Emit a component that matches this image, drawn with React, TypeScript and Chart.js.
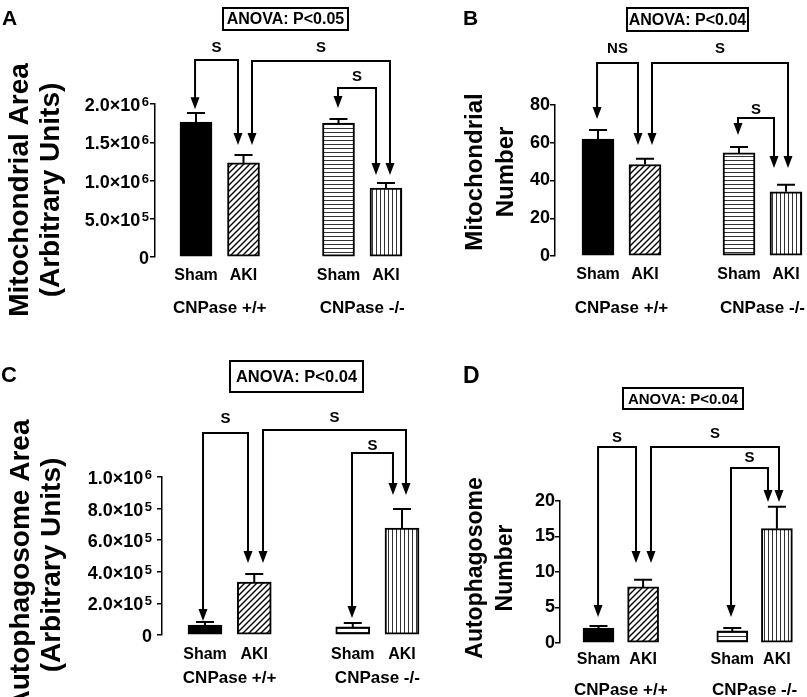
import React, { useEffect, useRef } from 'react';
import { Chart, registerables } from 'chart.js';

Chart.register(...registerables);

const FONT = '"Liberation Sans", Arial, Helvetica, sans-serif';
Chart.defaults.font.family = FONT;
Chart.defaults.color = '#000';

// ---------- data ----------
const categories = ['Sham', 'AKI', 'Sham', 'AKI'];
const xPositions = [0, 1, 3, 4];
const groupLabels = ['CNPase +/+', 'CNPase -/-'];
const groupPositions = [0.5, 3.5];

const mitoAreaValues = [1.765e6, 1.23e6, 1.75e6, 0.9e6];
const mitoAreaErrors = [0.117e6, 0.103e6, 0.055e6, 0.067e6];
const mitoAreaTicks = [0, 5e5, 1e6, 1.5e6, 2e6];

const mitoNumberValues = [62, 48.5, 54.6, 34];
const mitoNumberErrors = [4.8, 3, 3.2, 3.7];
const mitoNumberTicks = [0, 20, 40, 60, 80];

const autoAreaValues = [6.3e4, 3.35e5, 5.1e4, 6.77e5];
const autoAreaErrors = [1.9e4, 0.51e5, 2.5e4, 1.2e5];
const autoAreaTicks = [0, 2e5, 4e5, 6e5, 8e5, 1e6];

const autoNumberValues = [2.1, 7.9, 1.7, 16.1];
const autoNumberErrors = [0.3, 1.0, 0.4, 3.1];
const autoNumberTicks = [0, 5, 10, 15, 20];

// comparisons: [x1, x2, topValue, tip1Value, tip2Value, label, labelGap]
const mitoAreaBrackets: any[] = [
  [-0.02, 0.884, 2.575e6, 1.93e6, 1.464e6, 'S', 12],
  [1.179, 4.084, 2.562e6, 1.464e6, 1.072e6, 'S', 13],
  [2.99, 3.79, 2.209e6, 1.948e6, 1.072e6, 'S', 11],
];
const mitoNumberBrackets: any[] = [
  [-0.02, 0.851, 102.25, 72.6, 58.8, 'NS', 14],
  [1.149, 4.043, 102.25, 58.8, 46.6, 'S', 14],
  [2.979, 3.745, 73.1, 64.1, 46.6, 'S', 8],
];
const autoAreaBrackets: any[] = [
  [-0.04, 0.873, 1.278e6, 8.86e4, 4.557e5, 'S', 14],
  [1.178, 4.081, 1.297e6, 4.557e5, 8.86e5, 'S', 12],
  [2.985, 3.817, 1.152e6, 1.076e5, 8.86e5, 'S', 7],
];
const autoNumberBrackets: any[] = [
  [-0.01, 0.841, 27.6, 3.66, 11.27, 'S', 9],
  [1.177, 4.047, 27.6, 11.27, 19.86, 'S', 13],
  [2.971, 3.8, 24.65, 3.66, 19.86, 'S', 10],
];

// ---------- panel layout ----------
const panels: any[] = [
  {
    letter: 'A', letterPos: [2, 25], letterSize: 21,
    anova: 'ANOVA: P<0.05', box: [223, 8, 125, 22], anovaSize: 16,
    left: 155, top: 104, bottom: 257, x0: 196, unit: 47.5, right: 414, barW: 32,
    values: mitoAreaValues, errors: mitoAreaErrors, ticks: mitoAreaTicks, max: 2e6, sci: true, tickRight: 149,
    catPad: 1.4, groupY: 308,
    title: ['Mitochondrial Area', '(Arbitrary Units)'], titleSize: 28, titleBase: [28, 59], titleCY: 190,
    brackets: mitoAreaBrackets,
  },
  {
    letter: 'B', letterPos: [463, 25], letterSize: 21,
    anova: 'ANOVA: P<0.04', box: [627, 8, 121, 23], anovaSize: 16,
    left: 555, top: 105, bottom: 256, x0: 598, unit: 47, right: 805, barW: 32,
    values: mitoNumberValues, errors: mitoNumberErrors, ticks: mitoNumberTicks, max: 80, sci: false, tickRight: 0,
    catPad: 1.4, groupY: 308,
    title: ['Mitochondrial', 'Number'], titleSize: 24, titleBase: [482, 513], titleCY: 172,
    brackets: mitoNumberBrackets,
  },
  {
    letter: 'C', letterPos: [1, 382], letterSize: 22,
    anova: 'ANOVA: P<0.04', box: [230, 361, 133, 31], anovaSize: 16.5,
    left: 162, top: 477, bottom: 635, x0: 205, unit: 49.25, right: 431, barW: 34,
    values: autoAreaValues, errors: autoAreaErrors, ticks: autoAreaTicks, max: 1e6, sci: true, tickRight: 152,
    catPad: 2.4, groupY: 678,
    title: ['Autophagosome Area', '(Arbitrary Units)'], titleSize: 28, titleBase: [29, 60], titleCY: 565,
    brackets: autoAreaBrackets,
  },
  {
    letter: 'D', letterPos: [463, 383], letterSize: 23,
    anova: 'ANOVA: P<0.04', box: [623, 388, 120, 21], anovaSize: 15,
    left: 560, top: 501, bottom: 643, x0: 598.5, unit: 44.6, right: 804, barW: 31,
    values: autoNumberValues, errors: autoNumberErrors, ticks: autoNumberTicks, max: 20, sci: false, tickRight: 0,
    catPad: -0.6, groupY: 690,
    title: ['Autophagosome', 'Number'], titleSize: 23, titleBase: [482, 512], titleCY: 568,
    brackets: autoNumberBrackets,
  },
];

const W = 807;
const H = 697;
const Y_AXIS_W = 60;
const X_AXIS_H = 30;

function makePatterns(ctx: CanvasRenderingContext2D) {
  const mk = (w: number, h: number, draw: (c: CanvasRenderingContext2D) => void) => {
    const c = document.createElement('canvas');
    c.width = w;
    c.height = h;
    const g = c.getContext('2d')!;
    g.fillStyle = '#fff';
    g.fillRect(0, 0, w, h);
    draw(g);
    return ctx.createPattern(c, 'repeat')!;
  };
  const diag = mk(6, 6, (g) => {
    g.strokeStyle = '#000';
    g.lineWidth = 1.4;
    g.beginPath();
    g.moveTo(-1, 7); g.lineTo(7, -1);
    g.moveTo(-1, 1); g.lineTo(1, -1);
    g.moveTo(5, 7); g.lineTo(7, 5);
    g.stroke();
  });
  const hor = mk(4, 4, (g) => {
    g.fillStyle = '#333';
    g.fillRect(0, 0, 4, 1);
  });
  const ver = mk(4, 4, (g) => {
    g.fillStyle = '#333';
    g.fillRect(0, 0, 1, 4);
  });
  return ['#000', diag, hor, ver];
}

function errorBarPlugin(p: any) {
  return {
    id: 'errorBars' + p.letter,
    afterDatasetsDraw(chart: any) {
      const ctx = chart.ctx;
      const ys = chart.scales.y;
      const meta = chart.getDatasetMeta(0);
      ctx.save();
      ctx.strokeStyle = '#000';
      ctx.lineWidth = 2;
      meta.data.forEach((bar: any, i: number) => {
        const top = ys.getPixelForValue(p.values[i] + p.errors[i]);
        ctx.beginPath();
        ctx.moveTo(bar.x, bar.y);
        ctx.lineTo(bar.x, top);
        ctx.moveTo(bar.x - 9, top);
        ctx.lineTo(bar.x + 9, top);
        ctx.stroke();
      });
      ctx.restore();
    },
  };
}

function annotPlugin(p: any) {
  return {
    id: 'annot' + p.letter,
    afterDraw(chart: any) {
      const ctx: CanvasRenderingContext2D = chart.ctx;
      const xs = chart.scales.x;
      const ys = chart.scales.y;
      ctx.save();
      ctx.fillStyle = '#000';
      ctx.strokeStyle = '#000';

      // panel letter
      ctx.font = `bold ${p.letterSize}px ${FONT}`;
      ctx.textAlign = 'left';
      ctx.textBaseline = 'alphabetic';
      ctx.fillText(p.letter, p.letterPos[0], p.letterPos[1]);

      // ANOVA box
      const [bx, by, bw, bh] = p.box;
      ctx.lineWidth = 2;
      ctx.strokeRect(bx, by, bw, bh);
      ctx.font = `bold ${p.anovaSize}px ${FONT}`;
      ctx.textAlign = 'center';
      ctx.textBaseline = 'middle';
      ctx.fillText(p.anova, bx + bw / 2, by + bh / 2 + 1);

      // group labels
      ctx.font = `bold 17px ${FONT}`;
      groupLabels.forEach((g, i) => {
        ctx.fillText(g, xs.getPixelForValue(groupPositions[i]), p.groupY);
      });

      // y title
      ctx.font = `bold ${p.titleSize}px ${FONT}`;
      ctx.textBaseline = 'alphabetic';
      ctx.textAlign = 'center';
      p.title.forEach((line: string, i: number) => {
        ctx.save();
        ctx.translate(p.titleBase[i], p.titleCY);
        ctx.rotate(-Math.PI / 2);
        ctx.fillText(line, 0, 0);
        ctx.restore();
      });

      // scientific tick labels
      if (p.sci) {
        ys.ticks.forEach((t: any) => {
          const v = t.value;
          const y = ys.getPixelForValue(v);
          ctx.textAlign = 'right';
          ctx.textBaseline = 'alphabetic';
          if (v === 0) {
            ctx.font = `bold 18px ${FONT}`;
            ctx.fillText('0', p.tickRight, y + 7);
            return;
          }
          const exp = Math.floor(Math.log10(v) + 1e-9);
          const mant = (v / Math.pow(10, exp)).toFixed(1);
          ctx.font = `bold 13px ${FONT}`;
          const supW = ctx.measureText(String(exp)).width;
          ctx.fillText(String(exp), p.tickRight, y + 2);
          ctx.font = `bold 18px ${FONT}`;
          ctx.fillText(`${mant}×10`, p.tickRight - supW - 1.5, y + 7);
        });
      }

      // comparison brackets
      const AH = 12;
      const AW = 4.5;
      ctx.lineWidth = 2;
      ctx.lineJoin = 'miter';
      p.brackets.forEach((b: any[]) => {
        const [x1v, x2v, topV, t1V, t2V, label, gap] = b;
        const x1 = xs.getPixelForValue(x1v);
        const x2 = xs.getPixelForValue(x2v);
        const top = ys.getPixelForValue(topV);
        const t1 = ys.getPixelForValue(t1V);
        const t2 = ys.getPixelForValue(t2V);
        ctx.beginPath();
        ctx.moveTo(x1, t1 - AH + 1);
        ctx.lineTo(x1, top);
        ctx.lineTo(x2, top);
        ctx.lineTo(x2, t2 - AH + 1);
        ctx.stroke();
        [[x1, t1], [x2, t2]].forEach(([ax, ay]) => {
          ctx.beginPath();
          ctx.moveTo(ax, ay);
          ctx.lineTo(ax - AW, ay - AH);
          ctx.lineTo(ax + AW, ay - AH);
          ctx.closePath();
          ctx.fill();
        });
        ctx.font = `bold 15px ${FONT}`;
        ctx.textAlign = 'center';
        ctx.textBaseline = 'middle';
        ctx.fillText(label, (x1 + x2) / 2, top - gap);
      });

      ctx.restore();
    },
  };
}

function buildChart(canvas: HTMLCanvasElement, p: any) {
  const ctx = canvas.getContext('2d')!;
  const fills = makePatterns(ctx);
  const xmin = -(p.x0 - p.left) / p.unit;
  const xmax = (p.right - p.x0) / p.unit;
  return new Chart(canvas, {
    type: 'bar',
    data: {
      datasets: [
        {
          data: xPositions.map((x, i) => ({ x, y: p.values[i] })),
          backgroundColor: fills as any,
          borderColor: '#000',
          borderWidth: 2,
          borderSkipped: false,
          barThickness: p.barW,
        } as any,
      ],
    },
    options: {
      animation: false,
      responsive: false,
      devicePixelRatio: 1,
      events: [],
      layout: {
        padding: {
          left: p.left - Y_AXIS_W,
          right: W - p.right,
          top: p.top,
          bottom: H - p.bottom - X_AXIS_H,
        },
      },
      plugins: { legend: { display: false }, tooltip: { enabled: false } },
      scales: {
        x: {
          type: 'linear',
          min: xmin,
          max: xmax,
          offset: false,
          afterBuildTicks: (s: any) => {
            s.ticks = xPositions.map((v) => ({ value: v }));
          },
          afterFit: (s: any) => {
            s.height = X_AXIS_H;
          },
          grid: { display: false, offset: false },
          border: { display: false },
          ticks: {
            autoSkip: false,
            maxRotation: 0,
            padding: p.catPad,
            color: '#000',
            font: { size: 16, weight: 'bold', family: FONT },
            callback: (_v: any, i: number) => categories[i],
          },
        },
        y: {
          type: 'linear',
          min: 0,
          max: p.max,
          afterBuildTicks: (s: any) => {
            s.ticks = p.ticks.map((v: number) => ({ value: v }));
          },
          afterFit: (s: any) => {
            s.width = Y_AXIS_W;
          },
          grid: {
            display: true,
            drawOnChartArea: false,
            drawTicks: true,
            tickLength: 5,
            color: '#000',
            lineWidth: 1.5,
          },
          border: { display: true, color: '#000', width: 1.5 },
          ticks: {
            display: !p.sci,
            padding: 0,
            color: '#000',
            font: { size: 18, weight: 'bold', family: FONT },
          },
        },
      },
    } as any,
    plugins: [errorBarPlugin(p), annotPlugin(p)],
  });
}

function PanelChart({ panel }: { panel: any }) {
  const ref = useRef<HTMLCanvasElement>(null);
  useEffect(() => {
    const chart = buildChart(ref.current!, panel);
    return () => chart.destroy();
  }, [panel]);
  return (
    <canvas
      ref={ref}
      width={W}
      height={H}
      style={{ position: 'absolute', left: 0, top: 0, width: W, height: H }}
    />
  );
}

export default function App() {
  return (
    <div style={{ position: 'absolute', left: 0, top: 0, width: W, height: H, background: '#fff', overflow: 'hidden' }}>
      {panels.map((p) => (
        <PanelChart key={p.letter} panel={p} />
      ))}
    </div>
  );
}
